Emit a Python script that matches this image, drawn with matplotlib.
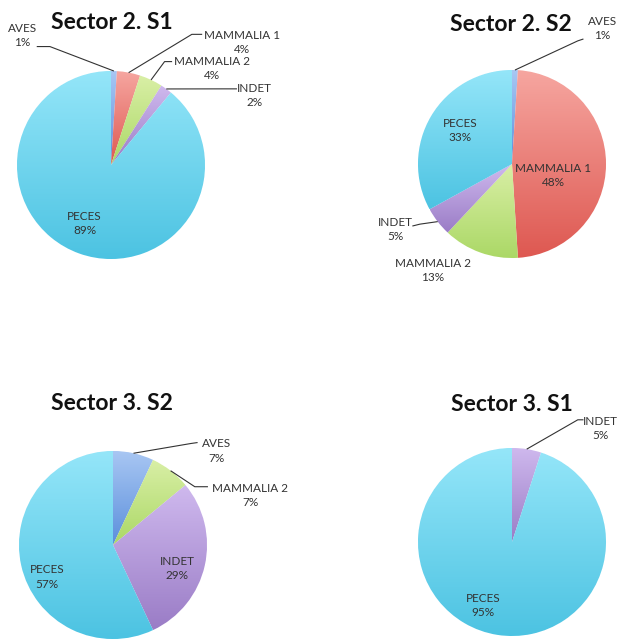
import matplotlib
matplotlib.use("Agg")
import matplotlib.pyplot as plt
import numpy as np
from matplotlib.colors import LinearSegmentedColormap

# diet composition per sector / season (%)
s2s1_labels = ["AVES", "MAMMALIA 1", "MAMMALIA 2", "INDET", "PECES"]
s2s1_values = [1, 4, 4, 2, 89]

s2s2_labels = ["AVES", "MAMMALIA 1", "MAMMALIA 2", "INDET", "PECES"]
s2s2_values = [1, 48, 13, 5, 33]

s3s2_labels = ["AVES", "MAMMALIA 2", "INDET", "PECES"]
s3s2_values = [7, 7, 29, 57]

s3s1_labels = ["INDET", "PECES"]
s3s1_values = [5, 95]

# top / bottom gradient colours for each group
grad = {
    "AVES": ("#a9c7f3", "#5b8fdc"),
    "MAMMALIA 1": ("#f6a6a0", "#de5851"),
    "MAMMALIA 2": ("#d9efa6", "#abd866"),
    "INDET": ("#cfb9ee", "#9a7cc6"),
    "PECES": ("#95e6f9", "#4cc3e2"),
}

W, H = 617, 642
PX = 94.0  # pixels per unit radius
HALF = 1.6
TXT = "#333333"
FONT = "Lato"

fig = plt.figure(figsize=(W / 100, H / 100), dpi=100)
fig.patch.set_facecolor("white")


def make_ax(cx, cy):
    size = 2 * HALF * PX
    ax = fig.add_axes([(cx - size / 2) / W, (H - cy - size / 2) / H, size / W, size / H])
    ax.set_xlim(-HALF, HALF)
    ax.set_ylim(-HALF, HALF)
    ax.set_aspect("equal")
    ax.axis("off")
    ax.patch.set_alpha(0)
    return ax


def draw_pie(ax, title, labels, values, title_xy, placement):
    wedges, _ = ax.pie(values, startangle=90, counterclock=False, radius=1,
                       wedgeprops=dict(linewidth=0.6, edgecolor="white"))
    for w, lab in zip(wedges, labels):
        top, bot = grad[lab]
        w.set_facecolor(top)
        cmap = LinearSegmentedColormap.from_list(lab, [top, bot])
        ext = w.get_path().get_extents()
        # vertical gradient filling each slice, lighter on top
        img = ax.imshow(np.linspace(0, 1, 256).reshape(-1, 1), cmap=cmap,
                        extent=(ext.x0, ext.x1, ext.y0, ext.y1), aspect="auto",
                        origin="upper", zorder=w.get_zorder() + 0.1)
        img.set_clip_path(w)
    ax.set_xlim(-HALF, HALF)
    ax.set_ylim(-HALF, HALF)

    ax.text(title_xy[0], title_xy[1], title, ha="center", va="center",
            fontsize=16.5, fontweight="bold", family=FONT, color="#111111")

    for w, lab, v in zip(wedges, labels, values):
        pos, lead = placement[lab]
        ax.text(pos[0], pos[1], f"{lab}\n{v}%", ha="center", va="center",
                fontsize=8.5, family=FONT, color=TXT, linespacing=1.35, zorder=5)
        if lead is not None:
            mid = np.deg2rad((w.theta1 + w.theta2) / 2)
            ex, ey = np.cos(mid), np.sin(mid)
            (sx, sy), (kx, ky) = lead
            ax.plot([sx, kx, ex], [sy, ky, ey], color="#333333", lw=0.8,
                    zorder=4, clip_on=False, solid_capstyle="butt")


ax1 = make_ax(111, 165)
draw_pie(ax1, "Sector 2. S1", s2s1_labels, s2s1_values, (0.01, 1.52), {
    "AVES": ((-0.94, 1.38), ((-0.79, 1.26), (-0.65, 1.26))),
    "MAMMALIA 1": ((1.39, 1.30), ((0.97, 1.39), (0.86, 1.39))),
    "MAMMALIA 2": ((1.07, 1.03), ((0.65, 1.10), (0.57, 1.10))),
    "INDET": ((1.53, 0.74), ((1.34, 0.81), (1.20, 0.81))),
    "PECES": ((-0.28, -0.62), None),
})

ax2 = make_ax(512, 164)
draw_pie(ax2, "Sector 2. S2", s2s2_labels, s2s2_values, (-0.01, 1.48), {
    "AVES": ((0.96, 1.44), ((0.76, 1.33), (0.70, 1.31))),
    "MAMMALIA 1": ((0.44, -0.12), None),
    "MAMMALIA 2": ((-0.84, -1.13), None),
    "INDET": ((-1.24, -0.70), ((-1.06, -0.66), (-0.98, -0.64))),
    "PECES": ((-0.55, 0.36), None),
})

ax3 = make_ax(113, 545)
draw_pie(ax3, "Sector 3. S2", s3s2_labels, s3s2_values, (-0.01, 1.51), {
    "AVES": ((1.10, 1.00), ((0.90, 1.09), (0.83, 1.08))),
    "MAMMALIA 2": ((1.46, 0.53), ((1.01, 0.62), (0.87, 0.62))),
    "INDET": ((0.68, -0.25), None),
    "PECES": ((-0.70, -0.34), None),
})

ax4 = make_ax(512, 542)
draw_pie(ax4, "Sector 3. S1", s3s1_labels, s3s1_values, (0.0, 1.46), {
    "INDET": ((0.94, 1.21), ((0.76, 1.30), (0.70, 1.30))),
    "PECES": ((-0.31, -0.68), None),
})

fig.savefig("out.png", dpi=100, facecolor="white")
